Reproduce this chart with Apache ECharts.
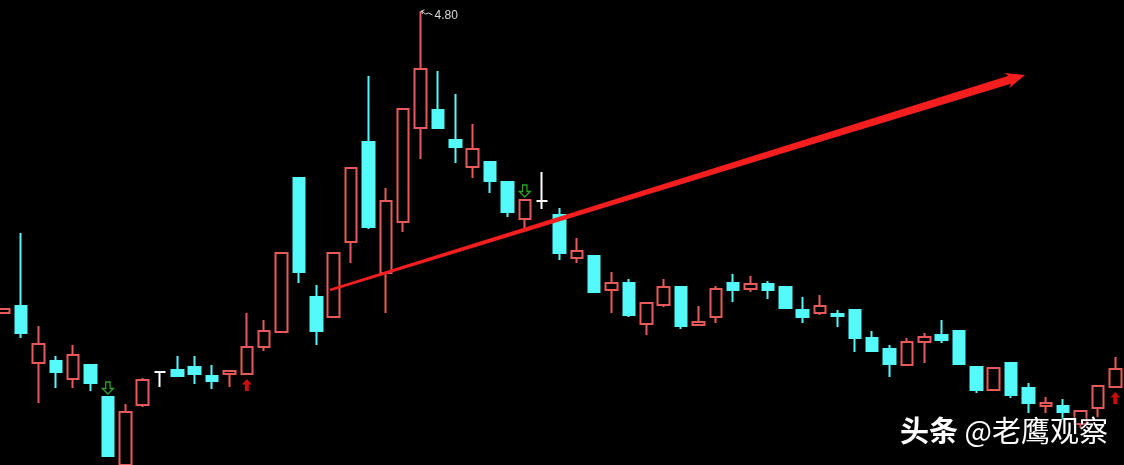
<!DOCTYPE html>
<html>
<head>
<meta charset="utf-8">
<style>
html,body{margin:0;padding:0;background:#000;}
#chart{width:1124px;height:465px;}
</style>
<script src="https://cdn.jsdelivr.net/npm/echarts@6/dist/echarts.min.js"></script>
</head>
<body>
<div id="chart"></div>
<script>
// ---- data (prices) ----
const openPrices  = [3.290,3.325,3.040,3.050,2.960,3.030,2.870,2.530,2.830,2.995,3.005,3.020,2.975,2.985,2.985,3.120,3.195,3.965,3.370,3.270,3.645,4.145,3.490,3.745,4.215,4.305,4.155,4.020,4.045,3.945,3.760,3.850,3.780,3.565,3.575,3.405,3.440,3.235,3.330,3.420,3.230,3.270,3.440,3.410,3.435,3.420,3.305,3.290,3.285,3.305,3.165,3.110,3.030,3.145,3.180,3.200,3.020,2.905,3.040,2.915,2.825,2.825,2.735,2.815,2.920];
const closePrices = [3.310,3.190,3.135,2.995,3.080,2.940,2.575,2.795,2.955,2.995,2.975,2.985,2.950,3.000,3.120,3.200,3.590,3.495,3.200,3.590,4.015,3.720,3.850,4.310,4.510,4.215,4.120,4.110,3.950,3.795,3.855,3.850,3.590,3.600,3.395,3.440,3.280,3.340,3.420,3.225,3.245,3.410,3.405,3.435,3.405,3.315,3.270,3.325,3.275,3.165,3.100,3.035,3.145,3.170,3.155,3.035,2.905,3.015,2.880,2.840,2.840,2.795,2.800,2.925,3.010];
const lowPrices   = [3.290,3.165,2.840,2.915,2.915,2.900,2.570,2.530,2.820,2.920,2.970,2.935,2.910,2.920,2.985,3.100,3.190,3.440,3.130,3.270,3.540,3.710,3.290,3.695,4.060,4.215,4.040,3.965,3.890,3.770,3.715,3.810,3.555,3.540,3.390,3.290,3.270,3.180,3.320,3.210,3.225,3.240,3.345,3.395,3.360,3.315,3.240,3.280,3.220,3.095,3.095,2.970,3.030,3.040,3.140,3.030,2.890,2.905,2.865,2.790,2.790,2.755,2.715,2.770,2.920];
const highPrices  = [3.310,3.690,3.225,3.075,3.130,3.030,2.870,2.835,2.965,2.995,3.075,3.075,3.030,3.005,3.290,3.255,3.590,3.965,3.430,3.590,4.015,4.475,3.915,4.310,4.800,4.500,4.385,4.235,4.050,3.945,3.855,3.995,3.815,3.665,3.580,3.495,3.460,3.345,3.460,3.425,3.325,3.425,3.485,3.475,3.450,3.425,3.370,3.380,3.305,3.310,3.200,3.130,3.165,3.190,3.255,3.205,3.025,3.020,3.045,2.940,2.870,2.860,2.805,2.925,3.070];
const categories = openPrices.map((_, i) => String(i + 1));

// signal arrows: buy (red, below low) and sell (green, above high)
const sellSignals = [6, 30];
const buySignals  = [14, 64];

// peak annotation
const peakIndex = 24;
const peakLabel = '4.80';

// trend line (x in candle-index units, y in price)
const trendX = [18.79, 58.8];
const trendY = [3.405, 4.48];

const watermarkBold = '头条';
const watermarkRest = ' @老鹰观察';

// ---- chart ----
const RED = '#e85a5a';
const CYAN = '#54fafa';
const chart = echarts.init(document.getElementById('chart'), null, {renderer: 'canvas'});

const candleData = openPrices.map((o, i) => [o, closePrices[i], lowPrices[i], highPrices[i]]);

const downArrow = 'path://M3,0 L7,0 L7,6 L10,6 L5,11 L0,6 L3,6 Z';
const upArrow = 'path://M5,0 L10,5 L7,5 L7,11 L3,11 L3,5 L0,5 Z';

const option = {
  backgroundColor: '#000000',
  animation: false,
  grid: {left: -5, width: 1129, top: 0, bottom: 0, containLabel: false, outerBoundsMode: 'none'},
  xAxis: [
    {type: 'category', data: categories, boundaryGap: true, show: false},
    {type: 'value', min: -0.5, max: 64.5, show: false}
  ],
  yAxis: [{type: 'value', min: 2.53, max: 4.855, show: false, splitLine: {show: false}}],
  series: [
    {
      type: 'candlestick',
      data: candleData,
      barWidth: 12,
      itemStyle: {
        color: '#000000',
        color0: CYAN,
        borderColor: RED,
        borderColor0: CYAN,
        borderColorDoji: '#ffffff',
        borderWidth: 2
      }
    },
    {
      type: 'scatter',
      data: sellSignals.map(i => [i, highPrices[i]]),
      symbol: downArrow,
      symbolSize: [11, 12],
      symbolOffset: [0, -9],
      itemStyle: {color: 'rgba(0,0,0,0)', borderColor: '#3cc83c', borderWidth: 1.3},
      z: 5
    },
    {
      type: 'scatter',
      data: buySignals.map(i => [i, lowPrices[i]]),
      symbol: upArrow,
      symbolSize: [10, 12],
      symbolOffset: [0, 11],
      itemStyle: {color: '#ff1010'},
      z: 5
    },
    {
      type: 'custom',
      data: [[peakIndex, highPrices[peakIndex]]],
      renderItem: function (params, api) {
        const p = api.coord([api.value(0), api.value(1)]);
        const x = p[0], y = p[1];
        return {
          type: 'group',
          children: [
            {type: 'polyline', shape: {points: [[x + 1, y], [x + 5, y + 3], [x + 8, y + 2], [x + 12, y + 4]]}, style: {stroke: '#d8d8d8', lineWidth: 1, fill: null}},
            {type: 'polyline', shape: {points: [[x + 4, y - 1], [x + 1, y], [x + 2, y + 3]]}, style: {stroke: '#d8d8d8', lineWidth: 1, fill: null}},
            {type: 'text', style: {text: peakLabel, x: x + 14, y: y + 5, textVerticalAlign: 'middle', fill: '#dcdcdc', fontSize: 12, fontFamily: 'Liberation Sans'}}
          ]
        };
      },
      z: 6
    },
    {
      type: 'custom',
      xAxisIndex: 1,
      yAxisIndex: 0,
      data: [[trendX[0], trendY[0], trendX[1], trendY[1]]],
      renderItem: function (params, api) {
        const p0 = api.coord([api.value(0), api.value(1)]);
        const p1 = api.coord([api.value(2), api.value(3)]);
        const dx = p1[0] - p0[0], dy = p1[1] - p0[1];
        const len = Math.sqrt(dx * dx + dy * dy);
        const ux = dx / len, uy = dy / len;
        const nx = -uy, ny = ux;
        const headLen = 16, headHalf = 8, w0 = 1.2, w1 = 4.2;
        const b = [p1[0] - ux * headLen, p1[1] - uy * headLen];
        const pts = [
          [p0[0] + nx * w0, p0[1] + ny * w0],
          [b[0] + nx * w1, b[1] + ny * w1],
          [b[0] + nx * headHalf - ux * 3, b[1] + ny * headHalf - uy * 3],
          [p1[0], p1[1]],
          [b[0] - nx * headHalf - ux * 3, b[1] - ny * headHalf - uy * 3],
          [b[0] - nx * w1, b[1] - ny * w1],
          [p0[0] - nx * w0, p0[1] - ny * w0]
        ];
        return {type: 'polygon', shape: {points: pts}, style: {fill: '#f41e1e'}};
      },
      z: 8
    }
  ],
  graphic: [
    {
      type: 'text',
      right: 16,
      top: 416,
      z: 100,
      style: {
        rich: {
          b: {fontFamily: 'Noto Sans CJK SC', fontSize: 29, fontWeight: 'bold', fill: '#ffffff'},
          n: {fontFamily: 'Noto Sans CJK SC', fontSize: 29, fontWeight: 'normal', fill: '#ffffff'}
        },
        text: '{b|' + watermarkBold + '}{n|' + watermarkRest + '}',
        textShadowColor: 'rgba(0,0,0,0.8)',
        textShadowBlur: 3
      }
    }
  ]
};
chart.setOption(option);
</script>
</body>
</html>
